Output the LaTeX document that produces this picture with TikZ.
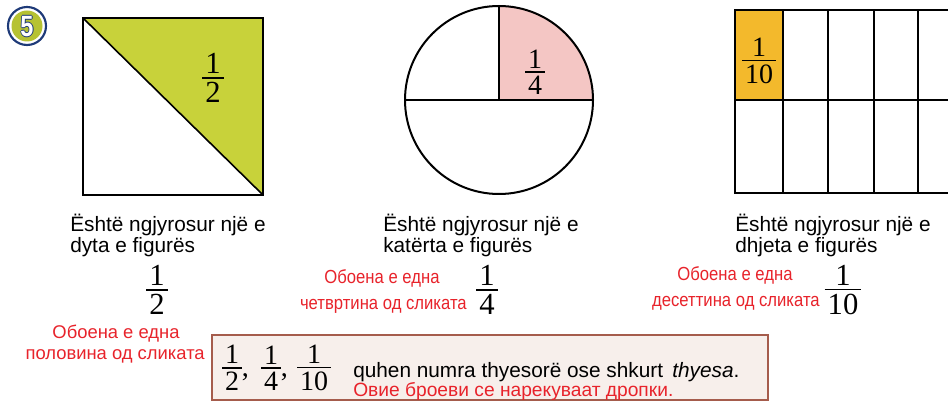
\documentclass[tikz,border=0pt]{standalone}
\usepackage{fontspec}
\setmainfont{Liberation Serif}
\setsansfont{Liberation Sans}
\newfontfamily\arialf{Liberation Sans}
\newfontfamily\arialn{Liberation Sans}[FakeStretch=0.88]
\newfontfamily\badgefont{Liberation Sans}[FakeStretch=0.8]
\definecolor{olivey}{HTML}{C8D23A}
\definecolor{pinkq}{HTML}{F4C6C4}
\definecolor{orangec}{HTML}{F3B92C}
\definecolor{redt}{HTML}{E8232B}
\definecolor{boxline}{HTML}{A55C4C}
\definecolor{boxfill}{HTML}{F7EFEB}
\definecolor{badgeblue}{HTML}{1E3A78}
\definecolor{badgein}{HTML}{B6C232}
\newdimen\frw
\newcommand\fr[2]{\begingroup\setbox0\hbox{#1}\setbox2\hbox{#2}%
  \frw=\ifdim\wd0>\wd2 \wd0\else\wd2\fi\advance\frw by 0.2em
  \vbox{\offinterlineskip\hbox to\frw{\hfil\box0\hfil}\kern0.12em
  \hrule height 0.045em width\frw\kern0.12em\hbox to\frw{\hfil\box2\hfil}}\endgroup}
\newcommand\outlinedfive{\makebox[0pt][l]{\hspace{-0.7pt}\textcolor{badgeblue}{5}}\makebox[0pt][l]{\hspace{0.7pt}\textcolor{badgeblue}{5}}\makebox[0pt][l]{\raisebox{0.7pt}{\textcolor{badgeblue}{5}}}\makebox[0pt][l]{\raisebox{-0.7pt}{\textcolor{badgeblue}{5}}}\textcolor{white}{5}}
\tikzset{
  shape line/.style={draw=black, line width=1.8pt},
  grid line/.style={draw=black, line width=1.5pt},
  fracnode/.style={inner sep=0pt, font=\fontsize{23}{26}\selectfont},
  fracsmall/.style={inner sep=0pt, font=\fontsize{21}{24}\selectfont},
  albtext/.style={inner sep=0pt, anchor=base west, font=\arialf\fontsize{15.6}{16}\selectfont},
  redtext/.style={inner sep=0pt, text=redt, font=\arialf\fontsize{13.8}{15}\selectfont},
  rednarrow/.style={inner sep=0pt, text=redt, font=\arialn\fontsize{14.2}{15}\selectfont},
}
\begin{document}
\begin{tikzpicture}[x=0.75pt,y=-0.75pt]
\useasboundingbox (0,0) rectangle (948,402);
\fill[white] (0,0) rectangle (948,402);

% badge
\draw[badgeblue, line width=1.6pt, fill=white] (27,26) circle[radius=19];
\fill[badgein] (27,26) circle[radius=15.5];
\node[inner sep=0pt, font=\badgefont\bfseries\fontsize{22}{22}\selectfont] (badge) at (27,26.5) {\outlinedfive};

% square
\fill[olivey] (83,18) -- (263,18) -- (263,195) -- cycle;
\draw[shape line] (83,18) rectangle (263,195);
\draw[line width=1.2pt] (83,18) -- (263,195);
\node[fracnode] (fsq) at (213,78) {\fr{1}{2}};

% circle
\fill[pinkq] (499,100) -- (593,100) arc[start angle=0, end angle=-90, radius=94] -- cycle;
\draw[shape line, line width=1.5pt] (499,100) circle[radius=94];
\draw[line width=1.1pt] (405,100) -- (593,100);
\draw[line width=1.1pt] (499,6) -- (499,100);
\node[fracsmall] (fci) at (535,72) {\fr{1}{4}};

% grid
\begin{scope}
\clip (700,0) rectangle (948,200);
\fill[orangec] (735,10) rectangle (783,100);
\foreach \x in {783,828,874,918}
  \draw[grid line] (\x,10) -- (\x,193);
\draw[grid line] (735,100) -- (970,100);
\draw[black, line width=2.2pt] (970,10) -- (735,10) -- (735,193) -- (970,193);
\end{scope}
\node[fracsmall] (fgr) at (759,61) {\fr{1}{10}};

% Albanian captions
\node[albtext] (a1) at (70,232) {Është ngjyrosur një e};
\node[albtext] (a2) at (70,253) {dyta e figurës};
\node[albtext] (b1) at (383,232) {Është ngjyrosur një e};
\node[albtext] (b2) at (383,253) {katërta e figurës};
\node[albtext] (c1) at (735,232) {Është ngjyrosur një e};
\node[albtext] (c2) at (735,253) {dhjeta e figurës};

% fractions below captions
\node[fracnode] (f1) at (157,290) {\fr{1}{2}};
\node[fracnode] (f2) at (487,290) {\fr{1}{4}};
\node[fracnode] (f3) at (843,290) {\fr{1}{10}};

% red translations
\node[redtext, anchor=base] (r1) at (116,338) {Обоена е една};
\node[redtext, anchor=base east] (r2) at (205,359) {половина од сликата};
\node[rednarrow, anchor=base] (r3) at (382,283) {Обоена е една};
\node[rednarrow, anchor=base east] (r4) at (467,309) {четвртина од сликата};
\node[rednarrow, anchor=base] (r5) at (735,281) {Обоена е една};
\node[rednarrow, anchor=base east] (r6) at (820,306) {десеттина од сликата};

% definition box
\draw[boxline, line width=1.2pt, fill=boxfill] (212,335) rectangle (768,400);
\node[fracsmall, anchor=west] (g1) at (222,368) {\fr{1}{2}\raisebox{0.5em}{,}};
\node[fracsmall, anchor=west] (g2) at (261,368) {\fr{1}{4}\raisebox{0.5em}{,}};
\node[fracsmall] (g3) at (314,368) {\fr{1}{10}};
\node[albtext] (q1) at (353,377) {quhen numra thyesorë ose shkurt\, \textit{thyesa}.};
\node[redtext, anchor=base west, font=\arialf\fontsize{14.4}{15}\selectfont] (q2) at (353,396) {Овие броеви се нарекуваат дропки.};
\end{tikzpicture}
\end{document}
